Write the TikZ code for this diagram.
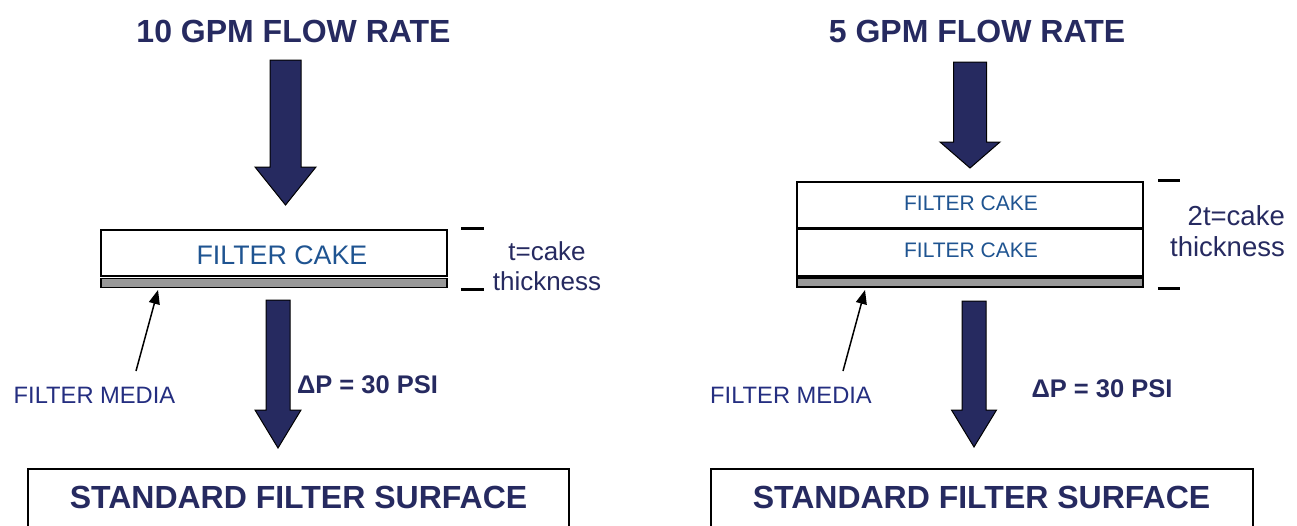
\documentclass[tikz,border=0pt]{standalone}
\usepackage{fontspec}
\setmainfont{Liberation Sans}
\usetikzlibrary{arrows.meta,calc}

\definecolor{navy}{RGB}{38,42,96}
\definecolor{cakeblue}{RGB}{31,84,145}
\definecolor{medianavy}{RGB}{36,46,128}
\definecolor{mediagray}{RGB}{153,153,153}

% block arrow from the top of its shaft (#1) to its tip (#2):
% #3 half shaft width, #4 half head width, #5 head length
\newcommand\flowarrow[5]{%
  \draw[flowstyle]
    ($(#1)+(-#3,0)$) -- ($(#2)+(-#3,-#5)$) -- ($(#2)+(-#4,-#5)$) -- (#2)
    -- ($(#2)+(#4,-#5)$) -- ($(#2)+(#3,-#5)$) -- ($(#1)+(#3,0)$) -- cycle;}

\tikzset{
  flowstyle/.style={fill=navy, draw=black, line width=1pt, line join=miter},
  title/.style={font=\fontsize{32}{38}\selectfont\bfseries, text=navy, inner sep=0pt},
  cakebox/.style={draw=black, fill=white, line width=2pt, minimum width=346pt,
    inner sep=0pt, text=cakeblue},
  cake text/.style={text=cakeblue, inner sep=0pt},
  mediabox/.style={draw=black, fill=mediagray, line width=1.5pt, minimum width=346pt,
    minimum height=9pt, inner sep=0pt},
  thick label/.style={text=navy, inner sep=0pt},
  media label/.style={font=\fontsize{23.7}{28}\selectfont, text=medianavy, inner sep=0pt},
  dp label/.style={font=\fontsize{25.5}{30}\selectfont\bfseries, text=navy, inner sep=0pt},
  surface label/.style={font=\fontsize{32}{38}\selectfont\bfseries, text=navy, inner sep=0pt},
  tick/.style={draw=black, line width=3pt},
  pointer/.style={draw=black, line width=1.5pt, -{Triangle[length=14pt,width=11pt]}},
}

\begin{document}
\begin{tikzpicture}[x=1pt, y=-1pt]
\clip (0,0) rectangle (1297,525);
\fill[white] (0,0) rectangle (1297,525);

% ---------- 10 GPM side ----------
\node[title, anchor=base] (titleL) at (293.5,42) {10 GPM FLOW RATE};
\coordinate (inLtop) at (285.5,60);
\coordinate (inLtip) at (285.5,205);
\flowarrow{inLtop}{inLtip}{15.5}{30.5}{38}

\node[cakebox, minimum height=46pt] (cakeL) at (274,253) {};
\node[cake text, font=\fontsize{26.8}{31}\selectfont] (cakeLtext) at ($(cakeL)+(8,2.5)$) {FILTER CAKE};
\node[mediabox] (mediaL) at (274,283) {};
\draw[tick] ($(cakeL.north east)+(13,-1)$) -- +(23,0);
\draw[tick] ($(mediaL.south east)+(13,1.5)$) -- +(23,0);
\node[thick label, font=\fontsize{26}{29.5}\selectfont, align=center] (thickL) at (547,266) {t=cake\\thickness};

\node[media label, anchor=base] (fmL) at (94.5,403) {FILTER MEDIA};
\coordinate (fmLtail) at (136,371);
\coordinate (fmLtip) at (158,290);
\draw[pointer] (fmLtail) -- (fmLtip);

\coordinate (outLtop) at (278,300);
\coordinate (outLtip) at (278,448);
\flowarrow{outLtop}{outLtip}{12}{23}{38}
\node[dp label, anchor=base] (dpL) at (367.5,393) {ΔP = 30 PSI};

\draw[line width=2pt] (28,469) rectangle (569,560);
\node[surface label, anchor=base] (surfL) at (298.5,508) {STANDARD FILTER SURFACE};

% ---------- 5 GPM side ----------
\node[title, anchor=base] (titleR) at (977,42) {5 GPM FLOW RATE};
\coordinate (inRtop) at (970,62);
\coordinate (inRtip) at (970,168);
\flowarrow{inRtop}{inRtip}{16.5}{30}{26}

\node[cakebox, minimum height=46pt] (cakeR1) at (970,205) {};
\node[cake text, font=\fontsize{21}{25}\selectfont] (cakeR1text) at ($(cakeR1)+(1,-1.5)$) {FILTER CAKE};
\node[cakebox, minimum height=47pt] (cakeR2) at (970,252.5) {};
\node[cake text, font=\fontsize{21}{25}\selectfont] (cakeR2text) at ($(cakeR2)+(1,-2)$) {FILTER CAKE};
\node[mediabox] (mediaR) at (970,282.5) {};
\draw[tick] ($(cakeR1.north east)+(14,-1)$) -- +(22,0);
\draw[tick] ($(mediaR.south east)+(14,1)$) -- +(22,0);
\node[thick label, font=\fontsize{27.5}{31}\selectfont, align=right, anchor=east] (thickR) at (1285,231) {2t=cake\\thickness};

\node[media label, anchor=base] (fmR) at (791,403) {FILTER MEDIA};
\coordinate (fmRtail) at (843,371);
\coordinate (fmRtip) at (865,290);
\draw[pointer] (fmRtail) -- (fmRtip);

\coordinate (outRtop) at (974,301);
\coordinate (outRtip) at (974,447);
\flowarrow{outRtop}{outRtip}{12}{22.5}{37}
\node[dp label, anchor=base] (dpR) at (1102,397) {ΔP = 30 PSI};

\draw[line width=2pt] (711,469) rectangle (1253,560);
\node[surface label, anchor=base] (surfR) at (981.5,508) {STANDARD FILTER SURFACE};
\end{tikzpicture}
\end{document}
